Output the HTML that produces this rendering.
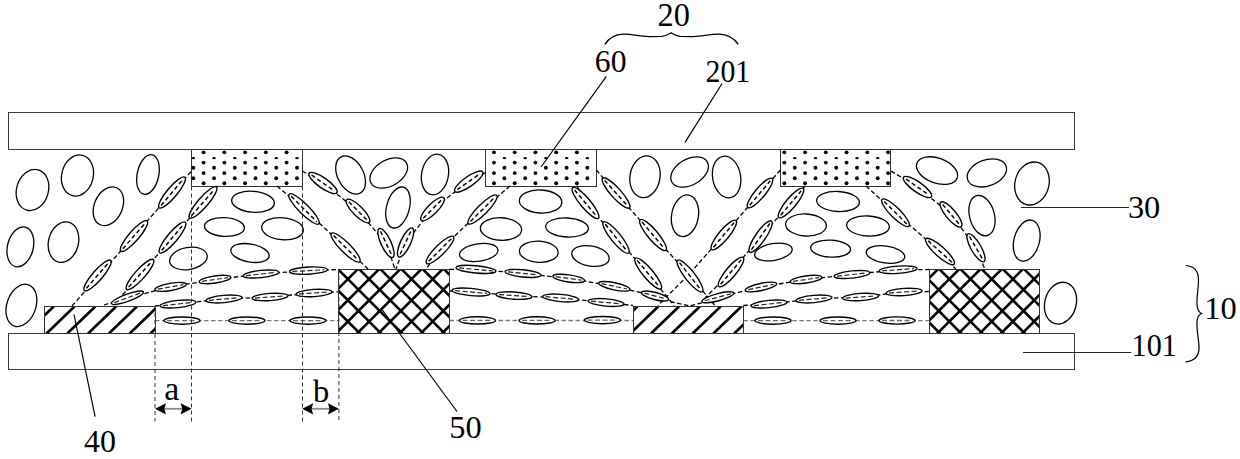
<!DOCTYPE html>
<html><head><meta charset="utf-8"><style>
html,body{margin:0;padding:0;background:#fff;}
svg{display:block;}
.oe{fill:none;stroke:#000;stroke-width:1.3;}
.le{fill:#fff;stroke:#000;stroke-width:1.4;}
.ld{stroke:#000;stroke-width:1.45;stroke-dasharray:4.2 2.8;}
.dt{fill:#000;}
.ld3{stroke:#222;stroke-width:1.2;stroke-dasharray:5 2.5;}
.ld2{stroke:#666;stroke-width:1.3;stroke-dasharray:5 2.5;}
.dl2{fill:none;stroke:#777;stroke-width:1.3;stroke-dasharray:4.5 2.5;}
.dl{fill:none;stroke:#000;stroke-width:1.3;stroke-dasharray:4.5 2.5;}
.vd{stroke:#333;stroke-width:1;stroke-dasharray:4 3;}
.pl{fill:none;stroke:#3a3a3a;stroke-width:1;}
.pl2{fill:none;stroke:#333;stroke-width:1;}
.ht{stroke:#000;stroke-width:2.7;}
.ch{stroke:#000;stroke-width:2.6;}
.ldr{stroke:#000;stroke-width:1.2;}
.ldh{stroke:#222;stroke-width:1;}
.ar{stroke:#888;stroke-width:1.8;}
.br{fill:none;stroke:#000;stroke-width:1.25;}
.tx{font-family:"Liberation Serif",serif;font-size:100px;fill:#000;}
</style></head><body>
<svg width="1240" height="459" viewBox="0 0 1240 459">
<rect width="1240" height="459" fill="#fff"/>
<rect x="8.5" y="112.5" width="1066" height="37" class="pl"/>
<rect x="8.5" y="333.5" width="1066" height="36" class="pl"/>
<rect x="191.5" y="149.5" width="111" height="37" class="pl2"/>
<circle cx="203.60" cy="152.35" r="1.95" class="dt"/>
<circle cx="203.60" cy="162.6" r="1.95" class="dt"/>
<circle cx="203.60" cy="173.1" r="1.95" class="dt"/>
<circle cx="203.60" cy="183.2" r="1.95" class="dt"/>
<circle cx="193.30" cy="167.8" r="1.95" class="dt"/>
<circle cx="193.30" cy="178.3" r="1.95" class="dt"/>
<ellipse cx="193.30" cy="158.2" rx="1.8" ry="1.1" class="dt"/>
<circle cx="224.34" cy="152.35" r="1.95" class="dt"/>
<circle cx="224.34" cy="162.6" r="1.95" class="dt"/>
<circle cx="224.34" cy="173.1" r="1.95" class="dt"/>
<circle cx="224.34" cy="183.2" r="1.95" class="dt"/>
<circle cx="214.04" cy="167.8" r="1.95" class="dt"/>
<circle cx="214.04" cy="178.3" r="1.95" class="dt"/>
<ellipse cx="214.04" cy="158.2" rx="1.8" ry="1.1" class="dt"/>
<circle cx="245.08" cy="152.35" r="1.95" class="dt"/>
<circle cx="245.08" cy="162.6" r="1.95" class="dt"/>
<circle cx="245.08" cy="173.1" r="1.95" class="dt"/>
<circle cx="245.08" cy="183.2" r="1.95" class="dt"/>
<circle cx="234.78" cy="167.8" r="1.95" class="dt"/>
<circle cx="234.78" cy="178.3" r="1.95" class="dt"/>
<ellipse cx="234.78" cy="158.2" rx="1.8" ry="1.1" class="dt"/>
<circle cx="265.82" cy="152.35" r="1.95" class="dt"/>
<circle cx="265.82" cy="162.6" r="1.95" class="dt"/>
<circle cx="265.82" cy="173.1" r="1.95" class="dt"/>
<circle cx="265.82" cy="183.2" r="1.95" class="dt"/>
<circle cx="255.52" cy="167.8" r="1.95" class="dt"/>
<circle cx="255.52" cy="178.3" r="1.95" class="dt"/>
<ellipse cx="255.52" cy="158.2" rx="1.8" ry="1.1" class="dt"/>
<circle cx="286.56" cy="152.35" r="1.95" class="dt"/>
<circle cx="286.56" cy="162.6" r="1.95" class="dt"/>
<circle cx="286.56" cy="173.1" r="1.95" class="dt"/>
<circle cx="286.56" cy="183.2" r="1.95" class="dt"/>
<circle cx="276.26" cy="167.8" r="1.95" class="dt"/>
<circle cx="276.26" cy="178.3" r="1.95" class="dt"/>
<ellipse cx="276.26" cy="158.2" rx="1.8" ry="1.1" class="dt"/>
<circle cx="297.00" cy="167.8" r="1.95" class="dt"/>
<circle cx="297.00" cy="178.3" r="1.95" class="dt"/>
<ellipse cx="297.00" cy="158.2" rx="1.8" ry="1.1" class="dt"/>
<rect x="485.5" y="149.5" width="111" height="37" class="pl2"/>
<circle cx="493.96" cy="152.35" r="1.95" class="dt"/>
<circle cx="493.96" cy="162.6" r="1.95" class="dt"/>
<circle cx="493.96" cy="173.1" r="1.95" class="dt"/>
<circle cx="493.96" cy="183.2" r="1.95" class="dt"/>
<circle cx="514.70" cy="152.35" r="1.95" class="dt"/>
<circle cx="514.70" cy="162.6" r="1.95" class="dt"/>
<circle cx="514.70" cy="173.1" r="1.95" class="dt"/>
<circle cx="514.70" cy="183.2" r="1.95" class="dt"/>
<circle cx="504.40" cy="167.8" r="1.95" class="dt"/>
<circle cx="504.40" cy="178.3" r="1.95" class="dt"/>
<ellipse cx="504.40" cy="158.2" rx="1.8" ry="1.1" class="dt"/>
<circle cx="535.44" cy="152.35" r="1.95" class="dt"/>
<circle cx="535.44" cy="162.6" r="1.95" class="dt"/>
<circle cx="535.44" cy="173.1" r="1.95" class="dt"/>
<circle cx="535.44" cy="183.2" r="1.95" class="dt"/>
<circle cx="525.14" cy="167.8" r="1.95" class="dt"/>
<circle cx="525.14" cy="178.3" r="1.95" class="dt"/>
<ellipse cx="525.14" cy="158.2" rx="1.8" ry="1.1" class="dt"/>
<circle cx="556.18" cy="152.35" r="1.95" class="dt"/>
<circle cx="556.18" cy="162.6" r="1.95" class="dt"/>
<circle cx="556.18" cy="173.1" r="1.95" class="dt"/>
<circle cx="556.18" cy="183.2" r="1.95" class="dt"/>
<circle cx="545.88" cy="167.8" r="1.95" class="dt"/>
<circle cx="545.88" cy="178.3" r="1.95" class="dt"/>
<ellipse cx="545.88" cy="158.2" rx="1.8" ry="1.1" class="dt"/>
<circle cx="576.92" cy="152.35" r="1.95" class="dt"/>
<circle cx="576.92" cy="162.6" r="1.95" class="dt"/>
<circle cx="576.92" cy="173.1" r="1.95" class="dt"/>
<circle cx="576.92" cy="183.2" r="1.95" class="dt"/>
<circle cx="566.62" cy="167.8" r="1.95" class="dt"/>
<circle cx="566.62" cy="178.3" r="1.95" class="dt"/>
<ellipse cx="566.62" cy="158.2" rx="1.8" ry="1.1" class="dt"/>
<circle cx="587.36" cy="167.8" r="1.95" class="dt"/>
<circle cx="587.36" cy="178.3" r="1.95" class="dt"/>
<ellipse cx="587.36" cy="158.2" rx="1.8" ry="1.1" class="dt"/>
<rect x="780.5" y="149.5" width="110" height="37" class="pl2"/>
<circle cx="784.32" cy="152.35" r="1.95" class="dt"/>
<circle cx="784.32" cy="162.6" r="1.95" class="dt"/>
<circle cx="784.32" cy="173.1" r="1.95" class="dt"/>
<circle cx="784.32" cy="183.2" r="1.95" class="dt"/>
<circle cx="805.06" cy="152.35" r="1.95" class="dt"/>
<circle cx="805.06" cy="162.6" r="1.95" class="dt"/>
<circle cx="805.06" cy="173.1" r="1.95" class="dt"/>
<circle cx="805.06" cy="183.2" r="1.95" class="dt"/>
<circle cx="794.76" cy="167.8" r="1.95" class="dt"/>
<circle cx="794.76" cy="178.3" r="1.95" class="dt"/>
<ellipse cx="794.76" cy="158.2" rx="1.8" ry="1.1" class="dt"/>
<circle cx="825.80" cy="152.35" r="1.95" class="dt"/>
<circle cx="825.80" cy="162.6" r="1.95" class="dt"/>
<circle cx="825.80" cy="173.1" r="1.95" class="dt"/>
<circle cx="825.80" cy="183.2" r="1.95" class="dt"/>
<circle cx="815.50" cy="167.8" r="1.95" class="dt"/>
<circle cx="815.50" cy="178.3" r="1.95" class="dt"/>
<ellipse cx="815.50" cy="158.2" rx="1.8" ry="1.1" class="dt"/>
<circle cx="846.54" cy="152.35" r="1.95" class="dt"/>
<circle cx="846.54" cy="162.6" r="1.95" class="dt"/>
<circle cx="846.54" cy="173.1" r="1.95" class="dt"/>
<circle cx="846.54" cy="183.2" r="1.95" class="dt"/>
<circle cx="836.24" cy="167.8" r="1.95" class="dt"/>
<circle cx="836.24" cy="178.3" r="1.95" class="dt"/>
<ellipse cx="836.24" cy="158.2" rx="1.8" ry="1.1" class="dt"/>
<circle cx="867.28" cy="152.35" r="1.95" class="dt"/>
<circle cx="867.28" cy="162.6" r="1.95" class="dt"/>
<circle cx="867.28" cy="173.1" r="1.95" class="dt"/>
<circle cx="867.28" cy="183.2" r="1.95" class="dt"/>
<circle cx="856.98" cy="167.8" r="1.95" class="dt"/>
<circle cx="856.98" cy="178.3" r="1.95" class="dt"/>
<ellipse cx="856.98" cy="158.2" rx="1.8" ry="1.1" class="dt"/>
<circle cx="888.02" cy="152.35" r="1.95" class="dt"/>
<circle cx="888.02" cy="162.6" r="1.95" class="dt"/>
<circle cx="888.02" cy="173.1" r="1.95" class="dt"/>
<circle cx="888.02" cy="183.2" r="1.95" class="dt"/>
<circle cx="877.72" cy="167.8" r="1.95" class="dt"/>
<circle cx="877.72" cy="178.3" r="1.95" class="dt"/>
<ellipse cx="877.72" cy="158.2" rx="1.8" ry="1.1" class="dt"/>
<path d="M72 306 L191.5 171" class="dl"/>
<path d="M113 305 L126 291 L217.5 186" class="dl"/>
<path d="M104 305 L127.4 297.8 L170.6 286.9 L215 279.5 L261 274 L308.5 270.6 L338.9 269.5" class="dl"/>
<path d="M155 306 L178 304 L224 299 L270 297 L314 293 L338.9 291.8" class="dl"/>
<path d="M155 320.7 L338.9 320.7" class="dl2"/>
<path d="M302.2 171 L323 183 L358 211 L386 243 L395 269" class="dl"/>
<path d="M277 186 L304 209 L345.6 247.5 L368 269" class="dl"/>
<path d="M485.7 172.5 L468.75 181.6 L432.5 209 L405.6 242.5 L396 269" class="dl"/>
<path d="M510 186 L482.5 209.5 L440 250 L426 269" class="dl"/>
<path d="M449.5 269.4 L476 269.4 L523 273.4 L568.75 278.4 L614.3 286.3 L655 296 L672 302 L689.8 305.9 L705 302 L717.8 297.3 L761 287 L806 279.5 L852 274.5 L898 269.75 L928.9 269.5" class="dl"/>
<path d="M449.5 291 L471 292 L514 295.6 L560.6 298 L606 302.5 L633 305.5" class="dl"/>
<path d="M449.5 320.5 L633 320.5" class="dl2"/>
<path d="M743.3 305.5 L769 304 L814 299 L860.6 297 L904 292 L928.9 291.5" class="dl"/>
<path d="M743.3 320.6 L928.9 320.6" class="dl2"/>
<path d="M596.3 170 L616 193 L653 235 L690 276 L715 305.5" class="dl"/>
<path d="M577 186 L585.5 203 L616 237.5 L648.2 273.5 L674 305.5" class="dl"/>
<path d="M780.4 170 L760 193 L723.75 235 L688.8 274.5 L658 305.5" class="dl"/>
<path d="M805 186 L791 203 L760.6 236.6 L731 272 L705 298" class="dl"/>
<path d="M891 171 L917.5 187 L951 214.4 L976 247.75 L985 269.4" class="dl"/>
<path d="M866 186 L895.5 212.75 L940 251.5 L956 269.4" class="dl"/>
<g transform="translate(97.5 275.5) rotate(-49)"><ellipse cx="0" cy="0" rx="20" ry="5" class="le"/><line x1="-17" y1="0" x2="17" y2="0" class="ld"/></g>
<g transform="translate(134 236) rotate(-49)"><ellipse cx="0" cy="0" rx="20" ry="5" class="le"/><line x1="-17" y1="0" x2="17" y2="0" class="ld"/></g>
<g transform="translate(172 192.5) rotate(-50)"><ellipse cx="0" cy="0" rx="20" ry="5" class="le"/><line x1="-17" y1="0" x2="17" y2="0" class="ld"/></g>
<g transform="translate(140 274.5) rotate(-48)"><ellipse cx="0" cy="0" rx="20" ry="5" class="le"/><line x1="-17" y1="0" x2="17" y2="0" class="ld"/></g>
<g transform="translate(172.5 237.5) rotate(-50)"><ellipse cx="0" cy="0" rx="20" ry="5" class="le"/><line x1="-17" y1="0" x2="17" y2="0" class="ld"/></g>
<g transform="translate(203 202.5) rotate(-49)"><ellipse cx="0" cy="0" rx="20.5" ry="5" class="le"/><line x1="-17.5" y1="0" x2="17.5" y2="0" class="ld"/></g>
<g transform="translate(127.4 297.8) rotate(-20)"><ellipse cx="0" cy="0" rx="17" ry="3.6" class="le"/><line x1="-14" y1="0" x2="14" y2="0" class="ld3"/></g>
<g transform="translate(323 183) rotate(35)"><ellipse cx="0" cy="0" rx="17" ry="5" class="le"/><line x1="-14" y1="0" x2="14" y2="0" class="ld"/></g>
<g transform="translate(358 211) rotate(45)"><ellipse cx="0" cy="0" rx="16" ry="5" class="le"/><line x1="-13" y1="0" x2="13" y2="0" class="ld"/></g>
<g transform="translate(386 243) rotate(65)"><ellipse cx="0" cy="0" rx="16" ry="5" class="le"/><line x1="-13" y1="0" x2="13" y2="0" class="ld"/></g>
<g transform="translate(304 209) rotate(45)"><ellipse cx="0" cy="0" rx="21" ry="5" class="le"/><line x1="-18" y1="0" x2="18" y2="0" class="ld"/></g>
<g transform="translate(345.6 247.5) rotate(45)"><ellipse cx="0" cy="0" rx="20" ry="5" class="le"/><line x1="-17" y1="0" x2="17" y2="0" class="ld"/></g>
<g transform="translate(468.75 181.6) rotate(-35)"><ellipse cx="0" cy="0" rx="17" ry="5" class="le"/><line x1="-14" y1="0" x2="14" y2="0" class="ld"/></g>
<g transform="translate(432.5 209) rotate(-45)"><ellipse cx="0" cy="0" rx="16" ry="5" class="le"/><line x1="-13" y1="0" x2="13" y2="0" class="ld"/></g>
<g transform="translate(405.6 242.5) rotate(-65)"><ellipse cx="0" cy="0" rx="16" ry="5" class="le"/><line x1="-13" y1="0" x2="13" y2="0" class="ld"/></g>
<g transform="translate(482.5 209.5) rotate(-45)"><ellipse cx="0" cy="0" rx="20" ry="5" class="le"/><line x1="-17" y1="0" x2="17" y2="0" class="ld"/></g>
<g transform="translate(440 250) rotate(-45)"><ellipse cx="0" cy="0" rx="19" ry="5" class="le"/><line x1="-16" y1="0" x2="16" y2="0" class="ld"/></g>
<g transform="translate(585.5 203) rotate(50)"><ellipse cx="0" cy="0" rx="20" ry="5" class="le"/><line x1="-17" y1="0" x2="17" y2="0" class="ld"/></g>
<g transform="translate(616 193) rotate(48)"><ellipse cx="0" cy="0" rx="20" ry="5" class="le"/><line x1="-17" y1="0" x2="17" y2="0" class="ld"/></g>
<g transform="translate(616 237.5) rotate(51)"><ellipse cx="0" cy="0" rx="20" ry="5" class="le"/><line x1="-17" y1="0" x2="17" y2="0" class="ld"/></g>
<g transform="translate(653 235) rotate(50)"><ellipse cx="0" cy="0" rx="20" ry="5" class="le"/><line x1="-17" y1="0" x2="17" y2="0" class="ld"/></g>
<g transform="translate(648.2 273.5) rotate(50)"><ellipse cx="0" cy="0" rx="20" ry="5" class="le"/><line x1="-17" y1="0" x2="17" y2="0" class="ld"/></g>
<g transform="translate(690 276) rotate(52)"><ellipse cx="0" cy="0" rx="20" ry="5" class="le"/><line x1="-17" y1="0" x2="17" y2="0" class="ld"/></g>
<g transform="translate(760 193) rotate(-50)"><ellipse cx="0" cy="0" rx="19" ry="5" class="le"/><line x1="-16" y1="0" x2="16" y2="0" class="ld"/></g>
<g transform="translate(723.75 235) rotate(-50)"><ellipse cx="0" cy="0" rx="19" ry="5" class="le"/><line x1="-16" y1="0" x2="16" y2="0" class="ld"/></g>
<g transform="translate(791 203) rotate(-50)"><ellipse cx="0" cy="0" rx="19" ry="5" class="le"/><line x1="-16" y1="0" x2="16" y2="0" class="ld"/></g>
<g transform="translate(760.6 236.6) rotate(-55)"><ellipse cx="0" cy="0" rx="19" ry="5" class="le"/><line x1="-16" y1="0" x2="16" y2="0" class="ld"/></g>
<g transform="translate(731 272) rotate(-50)"><ellipse cx="0" cy="0" rx="19" ry="5" class="le"/><line x1="-16" y1="0" x2="16" y2="0" class="ld"/></g>
<g transform="translate(614.3 286.3) rotate(12)"><ellipse cx="0" cy="0" rx="16" ry="3.6" class="le"/><line x1="-13" y1="0" x2="13" y2="0" class="ld3"/></g>
<g transform="translate(655 296) rotate(15)"><ellipse cx="0" cy="0" rx="14" ry="3.6" class="le"/><line x1="-11" y1="0" x2="11" y2="0" class="ld3"/></g>
<g transform="translate(717.8 297.3) rotate(-15)"><ellipse cx="0" cy="0" rx="16.5" ry="3.6" class="le"/><line x1="-13.5" y1="0" x2="13.5" y2="0" class="ld3"/></g>
<g transform="translate(917.5 187) rotate(35)"><ellipse cx="0" cy="0" rx="17" ry="5" class="le"/><line x1="-14" y1="0" x2="14" y2="0" class="ld"/></g>
<g transform="translate(951 214.4) rotate(50)"><ellipse cx="0" cy="0" rx="16" ry="5" class="le"/><line x1="-13" y1="0" x2="13" y2="0" class="ld"/></g>
<g transform="translate(976 247.75) rotate(60)"><ellipse cx="0" cy="0" rx="16" ry="5" class="le"/><line x1="-13" y1="0" x2="13" y2="0" class="ld"/></g>
<g transform="translate(895.5 212.75) rotate(45)"><ellipse cx="0" cy="0" rx="19" ry="5" class="le"/><line x1="-16" y1="0" x2="16" y2="0" class="ld"/></g>
<g transform="translate(940 251.5) rotate(42)"><ellipse cx="0" cy="0" rx="19" ry="5" class="le"/><line x1="-16" y1="0" x2="16" y2="0" class="ld"/></g>
<g transform="translate(170.6 286.9) rotate(-10)"><ellipse cx="0" cy="0" rx="16" ry="3.6" class="le"/><line x1="-13" y1="0" x2="13" y2="0" class="ld3"/></g>
<g transform="translate(215 279.5) rotate(-8)"><ellipse cx="0" cy="0" rx="16" ry="3.6" class="le"/><line x1="-13" y1="0" x2="13" y2="0" class="ld3"/></g>
<g transform="translate(261 274) rotate(-6)"><ellipse cx="0" cy="0" rx="18" ry="3.6" class="le"/><line x1="-15" y1="0" x2="15" y2="0" class="ld3"/></g>
<g transform="translate(308.5 270.6) rotate(-3)"><ellipse cx="0" cy="0" rx="19" ry="3.6" class="le"/><line x1="-16" y1="0" x2="16" y2="0" class="ld3"/></g>
<g transform="translate(178 304) rotate(-6)"><ellipse cx="0" cy="0" rx="18" ry="3.6" class="le"/><line x1="-15" y1="0" x2="15" y2="0" class="ld3"/></g>
<g transform="translate(224 299) rotate(-5)"><ellipse cx="0" cy="0" rx="18" ry="3.6" class="le"/><line x1="-15" y1="0" x2="15" y2="0" class="ld3"/></g>
<g transform="translate(270 297) rotate(-4)"><ellipse cx="0" cy="0" rx="18" ry="3.6" class="le"/><line x1="-15" y1="0" x2="15" y2="0" class="ld3"/></g>
<g transform="translate(314 293) rotate(-4)"><ellipse cx="0" cy="0" rx="18" ry="3.6" class="le"/><line x1="-15" y1="0" x2="15" y2="0" class="ld3"/></g>
<g transform="translate(182 320.6) rotate(0)"><ellipse cx="0" cy="0" rx="18" ry="3.6" class="le"/><line x1="-15" y1="0" x2="15" y2="0" class="ld2"/></g>
<g transform="translate(247 320.6) rotate(0)"><ellipse cx="0" cy="0" rx="18" ry="3.6" class="le"/><line x1="-15" y1="0" x2="15" y2="0" class="ld2"/></g>
<g transform="translate(308 320.6) rotate(0)"><ellipse cx="0" cy="0" rx="18" ry="3.6" class="le"/><line x1="-15" y1="0" x2="15" y2="0" class="ld2"/></g>
<g transform="translate(476 269.4) rotate(5)"><ellipse cx="0" cy="0" rx="20" ry="3.6" class="le"/><line x1="-17" y1="0" x2="17" y2="0" class="ld3"/></g>
<g transform="translate(523 273.4) rotate(6)"><ellipse cx="0" cy="0" rx="18" ry="3.6" class="le"/><line x1="-15" y1="0" x2="15" y2="0" class="ld3"/></g>
<g transform="translate(568.75 278.4) rotate(8)"><ellipse cx="0" cy="0" rx="16" ry="3.6" class="le"/><line x1="-13" y1="0" x2="13" y2="0" class="ld3"/></g>
<g transform="translate(471 292) rotate(5)"><ellipse cx="0" cy="0" rx="19" ry="3.6" class="le"/><line x1="-16" y1="0" x2="16" y2="0" class="ld3"/></g>
<g transform="translate(514 295.6) rotate(4)"><ellipse cx="0" cy="0" rx="18" ry="3.6" class="le"/><line x1="-15" y1="0" x2="15" y2="0" class="ld3"/></g>
<g transform="translate(560.6 298) rotate(5)"><ellipse cx="0" cy="0" rx="18" ry="3.6" class="le"/><line x1="-15" y1="0" x2="15" y2="0" class="ld3"/></g>
<g transform="translate(606 302.5) rotate(5)"><ellipse cx="0" cy="0" rx="18" ry="3.6" class="le"/><line x1="-15" y1="0" x2="15" y2="0" class="ld3"/></g>
<g transform="translate(477.5 320.4) rotate(0)"><ellipse cx="0" cy="0" rx="18" ry="3.6" class="le"/><line x1="-15" y1="0" x2="15" y2="0" class="ld2"/></g>
<g transform="translate(537 320.4) rotate(0)"><ellipse cx="0" cy="0" rx="18" ry="3.6" class="le"/><line x1="-15" y1="0" x2="15" y2="0" class="ld2"/></g>
<g transform="translate(602.5 320.1) rotate(0)"><ellipse cx="0" cy="0" rx="18" ry="3.6" class="le"/><line x1="-15" y1="0" x2="15" y2="0" class="ld2"/></g>
<g transform="translate(761 287) rotate(-12)"><ellipse cx="0" cy="0" rx="16" ry="3.6" class="le"/><line x1="-13" y1="0" x2="13" y2="0" class="ld3"/></g>
<g transform="translate(806 279.5) rotate(-8)"><ellipse cx="0" cy="0" rx="16" ry="3.6" class="le"/><line x1="-13" y1="0" x2="13" y2="0" class="ld3"/></g>
<g transform="translate(852 274.5) rotate(-6)"><ellipse cx="0" cy="0" rx="18" ry="3.6" class="le"/><line x1="-15" y1="0" x2="15" y2="0" class="ld3"/></g>
<g transform="translate(898 269.75) rotate(-4)"><ellipse cx="0" cy="0" rx="19" ry="3.6" class="le"/><line x1="-16" y1="0" x2="16" y2="0" class="ld3"/></g>
<g transform="translate(769 304) rotate(-6)"><ellipse cx="0" cy="0" rx="18" ry="3.6" class="le"/><line x1="-15" y1="0" x2="15" y2="0" class="ld3"/></g>
<g transform="translate(814 299) rotate(-5)"><ellipse cx="0" cy="0" rx="18" ry="3.6" class="le"/><line x1="-15" y1="0" x2="15" y2="0" class="ld3"/></g>
<g transform="translate(860.6 297) rotate(-4)"><ellipse cx="0" cy="0" rx="18" ry="3.6" class="le"/><line x1="-15" y1="0" x2="15" y2="0" class="ld3"/></g>
<g transform="translate(904 292) rotate(-4)"><ellipse cx="0" cy="0" rx="18" ry="3.6" class="le"/><line x1="-15" y1="0" x2="15" y2="0" class="ld3"/></g>
<g transform="translate(773 320.6) rotate(0)"><ellipse cx="0" cy="0" rx="18" ry="3.6" class="le"/><line x1="-15" y1="0" x2="15" y2="0" class="ld2"/></g>
<g transform="translate(838 320.6) rotate(0)"><ellipse cx="0" cy="0" rx="18" ry="3.6" class="le"/><line x1="-15" y1="0" x2="15" y2="0" class="ld2"/></g>
<g transform="translate(897 320.5) rotate(0)"><ellipse cx="0" cy="0" rx="18" ry="3.6" class="le"/><line x1="-15" y1="0" x2="15" y2="0" class="ld2"/></g>
<line x1="155" y1="306" x2="155" y2="421.5" class="vd"/>
<line x1="191.5" y1="186.5" x2="191.5" y2="421.5" class="vd"/>
<line x1="302.5" y1="186.5" x2="302.5" y2="421.5" class="vd"/>
<line x1="338.9" y1="269" x2="338.9" y2="421.5" class="vd"/>
<ellipse cx="253" cy="201.75" rx="21.4" ry="10.5" transform="rotate(5 253 201.75)" class="oe"/>
<ellipse cx="224.5" cy="227" rx="20.0" ry="9.4" transform="rotate(3 224.5 227)" class="oe"/>
<ellipse cx="282.5" cy="228.75" rx="20.9" ry="11" transform="rotate(5 282.5 228.75)" class="oe"/>
<ellipse cx="188.4" cy="258.5" rx="19.0" ry="11" transform="rotate(-10 188.4 258.5)" class="oe"/>
<ellipse cx="250" cy="253" rx="19.4" ry="9" transform="rotate(10 250 253)" class="oe"/>
<ellipse cx="350.6" cy="175" rx="12.9" ry="20.5" transform="rotate(-28 350.6 175)" class="oe"/>
<ellipse cx="388.75" cy="173" rx="20.4" ry="13" transform="rotate(-30 388.75 173)" class="oe"/>
<ellipse cx="398" cy="207.5" rx="11.4" ry="21" transform="rotate(15 398 207.5)" class="oe"/>
<ellipse cx="435" cy="174.5" rx="13.4" ry="20.5" transform="rotate(10 435 174.5)" class="oe"/>
<ellipse cx="540.6" cy="201.5" rx="21.299999999999997" ry="11.5" transform="rotate(3 540.6 201.5)" class="oe"/>
<ellipse cx="501" cy="229" rx="20.65" ry="11.25" transform="rotate(3 501 229)" class="oe"/>
<ellipse cx="567" cy="227.5" rx="21.4" ry="9.5" transform="rotate(3 567 227.5)" class="oe"/>
<ellipse cx="478.75" cy="252.5" rx="19.4" ry="8.75" transform="rotate(-8 478.75 252.5)" class="oe"/>
<ellipse cx="538.75" cy="251.75" rx="19.4" ry="10.6" transform="rotate(3 538.75 251.75)" class="oe"/>
<ellipse cx="590.5" cy="256" rx="18.9" ry="10" transform="rotate(10 590.5 256)" class="oe"/>
<ellipse cx="645" cy="176.75" rx="15.0" ry="21" transform="rotate(10 645 176.75)" class="oe"/>
<ellipse cx="689.6" cy="172" rx="20.4" ry="13" transform="rotate(-30 689.6 172)" class="oe"/>
<ellipse cx="726.6" cy="177" rx="14.0" ry="21" transform="rotate(-10 726.6 177)" class="oe"/>
<ellipse cx="685" cy="215.75" rx="13.4" ry="21" transform="rotate(10 685 215.75)" class="oe"/>
<ellipse cx="838" cy="201.5" rx="21.4" ry="10" transform="rotate(3 838 201.5)" class="oe"/>
<ellipse cx="806" cy="225" rx="20.4" ry="11" transform="rotate(3 806 225)" class="oe"/>
<ellipse cx="868" cy="226" rx="21.4" ry="10" transform="rotate(3 868 226)" class="oe"/>
<ellipse cx="773.4" cy="252" rx="19.0" ry="8.4" transform="rotate(-10 773.4 252)" class="oe"/>
<ellipse cx="830.6" cy="248.6" rx="20.0" ry="8.5" transform="rotate(3 830.6 248.6)" class="oe"/>
<ellipse cx="885.5" cy="254.5" rx="19.4" ry="8.5" transform="rotate(8 885.5 254.5)" class="oe"/>
<ellipse cx="937" cy="170.6" rx="21.4" ry="12.5" transform="rotate(20 937 170.6)" class="oe"/>
<ellipse cx="986.9" cy="172.9" rx="20.4" ry="13" transform="rotate(-20 986.9 172.9)" class="oe"/>
<ellipse cx="1032" cy="183.5" rx="17.0" ry="21.75" transform="rotate(15 1032 183.5)" class="oe"/>
<ellipse cx="982" cy="215.6" rx="12.4" ry="20.6" transform="rotate(-15 982 215.6)" class="oe"/>
<ellipse cx="1026.7" cy="240.6" rx="12.700000000000001" ry="21" transform="rotate(15 1026.7 240.6)" class="oe"/>
<ellipse cx="1060.5" cy="303.2" rx="15.700000000000001" ry="21.25" transform="rotate(15 1060.5 303.2)" class="oe"/>
<ellipse cx="32.5" cy="190" rx="15.91" ry="20.94" transform="rotate(16 32.5 190)" class="oe"/>
<ellipse cx="77.5" cy="175.5" rx="15.76" ry="20.86" transform="rotate(14 77.5 175.5)" class="oe"/>
<ellipse cx="108.4" cy="206.25" rx="14.05" ry="20.24" transform="rotate(24 108.4 206.25)" class="oe"/>
<ellipse cx="148" cy="174.5" rx="10.78" ry="20.16" transform="rotate(12 148 174.5)" class="oe"/>
<ellipse cx="20.4" cy="246.9" rx="12.90" ry="20.31" transform="rotate(14 20.4 246.9)" class="oe"/>
<ellipse cx="63.5" cy="242.1" rx="14.97" ry="20.53" transform="rotate(14 63.5 242.1)" class="oe"/>
<ellipse cx="21.4" cy="305.4" rx="14.51" ry="21.80" transform="rotate(19 21.4 305.4)" class="oe"/>
<clipPath id="h1"><rect x="44.5" y="306.5" width="111.0" height="27.0"/></clipPath>
<g clip-path="url(#h1)">
<line x1="-15.900000000000006" y1="333.5" x2="12.099999999999994" y2="306.5" class="ht"/>
<line x1="4.899999999999999" y1="333.5" x2="32.9" y2="306.5" class="ht"/>
<line x1="25.7" y1="333.5" x2="53.7" y2="306.5" class="ht"/>
<line x1="46.5" y1="333.5" x2="74.5" y2="306.5" class="ht"/>
<line x1="67.3" y1="333.5" x2="95.3" y2="306.5" class="ht"/>
<line x1="88.1" y1="333.5" x2="116.1" y2="306.5" class="ht"/>
<line x1="108.9" y1="333.5" x2="136.9" y2="306.5" class="ht"/>
<line x1="129.7" y1="333.5" x2="157.7" y2="306.5" class="ht"/>
<line x1="150.5" y1="333.5" x2="178.5" y2="306.5" class="ht"/>
<line x1="171.3" y1="333.5" x2="199.3" y2="306.5" class="ht"/>
<line x1="192.1" y1="333.5" x2="220.1" y2="306.5" class="ht"/>
<line x1="212.9" y1="333.5" x2="240.9" y2="306.5" class="ht"/>
<line x1="233.70000000000002" y1="333.5" x2="261.70000000000005" y2="306.5" class="ht"/>
</g>
<rect x="44.5" y="306.5" width="111.0" height="27.0" class="pl2"/>
<clipPath id="h2"><rect x="633.5" y="306.5" width="110.0" height="27.0"/></clipPath>
<g clip-path="url(#h2)">
<line x1="588.6" y1="333.5" x2="616.6" y2="306.5" class="ht"/>
<line x1="609.4" y1="333.5" x2="637.4" y2="306.5" class="ht"/>
<line x1="630.2" y1="333.5" x2="658.2" y2="306.5" class="ht"/>
<line x1="651.0" y1="333.5" x2="679.0" y2="306.5" class="ht"/>
<line x1="671.8" y1="333.5" x2="699.8" y2="306.5" class="ht"/>
<line x1="692.6" y1="333.5" x2="720.6" y2="306.5" class="ht"/>
<line x1="713.4" y1="333.5" x2="741.4" y2="306.5" class="ht"/>
<line x1="734.2" y1="333.5" x2="762.2" y2="306.5" class="ht"/>
<line x1="755.0" y1="333.5" x2="783.0" y2="306.5" class="ht"/>
<line x1="775.8" y1="333.5" x2="803.8" y2="306.5" class="ht"/>
<line x1="796.6" y1="333.5" x2="824.6" y2="306.5" class="ht"/>
<line x1="817.4" y1="333.5" x2="845.4" y2="306.5" class="ht"/>
<line x1="838.2" y1="333.5" x2="866.2" y2="306.5" class="ht"/>
</g>
<rect x="633.5" y="306.5" width="110.0" height="27.0" class="pl2"/>
<clipPath id="c1"><rect x="338.5" y="269.5" width="111.0" height="64.0"/></clipPath>
<g clip-path="url(#c1)">
<line x1="43.89999999999998" y1="229.5" x2="187.89999999999998" y2="373.5" class="ch"/>
<line x1="143.10000000000002" y1="229.5" x2="-0.8999999999999773" y2="373.5" class="ch"/>
<line x1="65.09999999999997" y1="229.5" x2="209.09999999999997" y2="373.5" class="ch"/>
<line x1="164.3" y1="229.5" x2="20.30000000000001" y2="373.5" class="ch"/>
<line x1="86.29999999999995" y1="229.5" x2="230.29999999999995" y2="373.5" class="ch"/>
<line x1="185.5" y1="229.5" x2="41.5" y2="373.5" class="ch"/>
<line x1="107.49999999999997" y1="229.5" x2="251.49999999999997" y2="373.5" class="ch"/>
<line x1="206.70000000000005" y1="229.5" x2="62.700000000000045" y2="373.5" class="ch"/>
<line x1="128.69999999999996" y1="229.5" x2="272.69999999999993" y2="373.5" class="ch"/>
<line x1="227.89999999999998" y1="229.5" x2="83.89999999999998" y2="373.5" class="ch"/>
<line x1="149.89999999999995" y1="229.5" x2="293.9" y2="373.5" class="ch"/>
<line x1="249.10000000000002" y1="229.5" x2="105.10000000000002" y2="373.5" class="ch"/>
<line x1="171.09999999999997" y1="229.5" x2="315.09999999999997" y2="373.5" class="ch"/>
<line x1="270.3" y1="229.5" x2="126.30000000000001" y2="373.5" class="ch"/>
<line x1="192.29999999999995" y1="229.5" x2="336.29999999999995" y2="373.5" class="ch"/>
<line x1="291.5" y1="229.5" x2="147.5" y2="373.5" class="ch"/>
<line x1="213.49999999999994" y1="229.5" x2="357.49999999999994" y2="373.5" class="ch"/>
<line x1="312.70000000000005" y1="229.5" x2="168.70000000000005" y2="373.5" class="ch"/>
<line x1="234.69999999999993" y1="229.5" x2="378.69999999999993" y2="373.5" class="ch"/>
<line x1="333.9" y1="229.5" x2="189.89999999999998" y2="373.5" class="ch"/>
<line x1="255.89999999999998" y1="229.5" x2="399.9" y2="373.5" class="ch"/>
<line x1="355.1" y1="229.5" x2="211.10000000000002" y2="373.5" class="ch"/>
<line x1="277.09999999999997" y1="229.5" x2="421.09999999999997" y2="373.5" class="ch"/>
<line x1="376.29999999999995" y1="229.5" x2="232.29999999999995" y2="373.5" class="ch"/>
<line x1="298.29999999999995" y1="229.5" x2="442.29999999999995" y2="373.5" class="ch"/>
<line x1="397.5" y1="229.5" x2="253.5" y2="373.5" class="ch"/>
<line x1="319.49999999999994" y1="229.5" x2="463.49999999999994" y2="373.5" class="ch"/>
<line x1="418.70000000000005" y1="229.5" x2="274.70000000000005" y2="373.5" class="ch"/>
<line x1="340.69999999999993" y1="229.5" x2="484.69999999999993" y2="373.5" class="ch"/>
<line x1="439.9" y1="229.5" x2="295.9" y2="373.5" class="ch"/>
<line x1="361.9" y1="229.5" x2="505.9" y2="373.5" class="ch"/>
<line x1="461.1" y1="229.5" x2="317.1" y2="373.5" class="ch"/>
<line x1="383.09999999999997" y1="229.5" x2="527.0999999999999" y2="373.5" class="ch"/>
<line x1="482.29999999999995" y1="229.5" x2="338.29999999999995" y2="373.5" class="ch"/>
<line x1="404.29999999999995" y1="229.5" x2="548.3" y2="373.5" class="ch"/>
<line x1="503.5" y1="229.5" x2="359.5" y2="373.5" class="ch"/>
<line x1="425.49999999999994" y1="229.5" x2="569.5" y2="373.5" class="ch"/>
<line x1="524.7" y1="229.5" x2="380.70000000000005" y2="373.5" class="ch"/>
<line x1="446.69999999999993" y1="229.5" x2="590.6999999999999" y2="373.5" class="ch"/>
<line x1="545.9" y1="229.5" x2="401.9" y2="373.5" class="ch"/>
<line x1="467.9" y1="229.5" x2="611.9" y2="373.5" class="ch"/>
<line x1="567.1" y1="229.5" x2="423.1" y2="373.5" class="ch"/>
<line x1="489.0999999999999" y1="229.5" x2="633.0999999999999" y2="373.5" class="ch"/>
<line x1="588.3" y1="229.5" x2="444.29999999999995" y2="373.5" class="ch"/>
<line x1="510.29999999999995" y1="229.5" x2="654.3" y2="373.5" class="ch"/>
<line x1="609.5" y1="229.5" x2="465.5" y2="373.5" class="ch"/>
<line x1="531.5" y1="229.5" x2="675.5" y2="373.5" class="ch"/>
<line x1="630.7" y1="229.5" x2="486.70000000000005" y2="373.5" class="ch"/>
</g>
<rect x="338.5" y="269.5" width="111.0" height="64.0" class="pl2"/>
<clipPath id="c2"><rect x="929.5" y="269.5" width="110.0" height="64.0"/></clipPath>
<g clip-path="url(#c2)">
<line x1="645.3" y1="229.5" x2="789.3" y2="373.5" class="ch"/>
<line x1="744.5000000000001" y1="229.5" x2="600.5000000000001" y2="373.5" class="ch"/>
<line x1="666.5" y1="229.5" x2="810.5" y2="373.5" class="ch"/>
<line x1="765.7" y1="229.5" x2="621.7" y2="373.5" class="ch"/>
<line x1="687.6999999999999" y1="229.5" x2="831.6999999999999" y2="373.5" class="ch"/>
<line x1="786.9000000000001" y1="229.5" x2="642.9000000000001" y2="373.5" class="ch"/>
<line x1="708.9" y1="229.5" x2="852.9" y2="373.5" class="ch"/>
<line x1="808.1000000000001" y1="229.5" x2="664.1000000000001" y2="373.5" class="ch"/>
<line x1="730.0999999999999" y1="229.5" x2="874.0999999999999" y2="373.5" class="ch"/>
<line x1="829.3000000000002" y1="229.5" x2="685.3000000000002" y2="373.5" class="ch"/>
<line x1="751.3" y1="229.5" x2="895.3" y2="373.5" class="ch"/>
<line x1="850.5" y1="229.5" x2="706.5" y2="373.5" class="ch"/>
<line x1="772.5" y1="229.5" x2="916.5" y2="373.5" class="ch"/>
<line x1="871.7" y1="229.5" x2="727.7" y2="373.5" class="ch"/>
<line x1="793.6999999999999" y1="229.5" x2="937.6999999999999" y2="373.5" class="ch"/>
<line x1="892.9000000000001" y1="229.5" x2="748.9000000000001" y2="373.5" class="ch"/>
<line x1="814.9" y1="229.5" x2="958.9" y2="373.5" class="ch"/>
<line x1="914.1000000000001" y1="229.5" x2="770.1000000000001" y2="373.5" class="ch"/>
<line x1="836.0999999999999" y1="229.5" x2="980.0999999999999" y2="373.5" class="ch"/>
<line x1="935.3000000000002" y1="229.5" x2="791.3000000000002" y2="373.5" class="ch"/>
<line x1="857.3" y1="229.5" x2="1001.3" y2="373.5" class="ch"/>
<line x1="956.5" y1="229.5" x2="812.5" y2="373.5" class="ch"/>
<line x1="878.4999999999999" y1="229.5" x2="1022.4999999999999" y2="373.5" class="ch"/>
<line x1="977.7" y1="229.5" x2="833.7" y2="373.5" class="ch"/>
<line x1="899.6999999999999" y1="229.5" x2="1043.6999999999998" y2="373.5" class="ch"/>
<line x1="998.9000000000001" y1="229.5" x2="854.9000000000001" y2="373.5" class="ch"/>
<line x1="920.9" y1="229.5" x2="1064.9" y2="373.5" class="ch"/>
<line x1="1020.1000000000001" y1="229.5" x2="876.1000000000001" y2="373.5" class="ch"/>
<line x1="942.0999999999999" y1="229.5" x2="1086.1" y2="373.5" class="ch"/>
<line x1="1041.3000000000002" y1="229.5" x2="897.3000000000002" y2="373.5" class="ch"/>
<line x1="963.3" y1="229.5" x2="1107.3" y2="373.5" class="ch"/>
<line x1="1062.5" y1="229.5" x2="918.5" y2="373.5" class="ch"/>
<line x1="984.5" y1="229.5" x2="1128.5" y2="373.5" class="ch"/>
<line x1="1083.7" y1="229.5" x2="939.7" y2="373.5" class="ch"/>
<line x1="1005.6999999999998" y1="229.5" x2="1149.6999999999998" y2="373.5" class="ch"/>
<line x1="1104.9" y1="229.5" x2="960.9000000000001" y2="373.5" class="ch"/>
<line x1="1026.8999999999999" y1="229.5" x2="1170.8999999999999" y2="373.5" class="ch"/>
<line x1="1126.1000000000001" y1="229.5" x2="982.1000000000001" y2="373.5" class="ch"/>
<line x1="1048.1" y1="229.5" x2="1192.1" y2="373.5" class="ch"/>
<line x1="1147.3000000000002" y1="229.5" x2="1003.3000000000002" y2="373.5" class="ch"/>
<line x1="1069.3" y1="229.5" x2="1213.3" y2="373.5" class="ch"/>
<line x1="1168.5" y1="229.5" x2="1024.5" y2="373.5" class="ch"/>
<line x1="1090.5" y1="229.5" x2="1234.5" y2="373.5" class="ch"/>
<line x1="1189.7" y1="229.5" x2="1045.7" y2="373.5" class="ch"/>
<line x1="1111.6999999999998" y1="229.5" x2="1255.6999999999998" y2="373.5" class="ch"/>
<line x1="1210.9" y1="229.5" x2="1066.9" y2="373.5" class="ch"/>
<line x1="1132.8999999999999" y1="229.5" x2="1276.8999999999999" y2="373.5" class="ch"/>
<line x1="1232.1000000000001" y1="229.5" x2="1088.1000000000001" y2="373.5" class="ch"/>
</g>
<rect x="929.5" y="269.5" width="110.0" height="64.0" class="pl2"/>
<line x1="606.4" y1="76.4" x2="541" y2="167" class="ldr"/>
<line x1="722.1" y1="83.5" x2="685" y2="142.4" class="ldr"/>
<line x1="74" y1="314.5" x2="95.1" y2="416.6" class="ldr"/>
<line x1="381.6" y1="309" x2="457" y2="411.5" class="ldr"/>
<line x1="1021" y1="207.5" x2="1129" y2="207.5" class="ldh"/>
<line x1="1023" y1="352.5" x2="1131.3" y2="352.5" class="ldh"/>
<line x1="163" y1="408.8" x2="183.6" y2="408.8" class="ar"/>
<path d="M155 408.8 L166 403.2 L164.3 408.8 L166 414.40000000000003 Z" fill="#000"/>
<path d="M191.6 408.8 L180.6 403.2 L182.29999999999998 408.8 L180.6 414.40000000000003 Z" fill="#000"/>
<line x1="310.2" y1="408.8" x2="330.9" y2="408.8" class="ar"/>
<path d="M302.2 408.8 L313.2 403.2 L311.5 408.8 L313.2 414.40000000000003 Z" fill="#000"/>
<path d="M338.9 408.8 L327.9 403.2 L329.59999999999997 408.8 L327.9 414.40000000000003 Z" fill="#000"/>
<path d="M604.9 44.4 C609 38 614 34.5 623 34.2 C632 34 640 36.4 648 36.5 L662 36.3 C666 36 669 34 671.1 32.8 C673 34 676 36 680 36.3 L694 36.5 C702 36.4 710 34 719 34.2 C728 34.5 734 38 738.2 44.4" class="br"/>
<path d="M1185.5 265.5 C1194 266 1198.5 270 1198.5 280 C1198.5 290 1196.5 296 1197 305 C1197.5 310 1199 312.5 1201.6 313.5 C1199 314.5 1197.2 317 1197 322 C1196.5 331 1199 340 1199 348 C1199 357 1194 361 1185.5 361.8" class="br"/>
<text transform="translate(657.60 26.19) scale(0.3239 0.3300)" x="0" y="0" class="tx">20</text>
<text transform="translate(594.83 71.55) scale(0.3163 0.3248)" x="0" y="0" class="tx">60</text>
<text transform="translate(705.51 81.96) scale(0.2979 0.3184)" x="0" y="0" class="tx">201</text>
<text transform="translate(1127.88 218.17) scale(0.3242 0.3164)" x="0" y="0" class="tx">30</text>
<text transform="translate(1204.27 319.16) scale(0.3253 0.3176)" x="0" y="0" class="tx">10</text>
<text transform="translate(1131.58 356.46) scale(0.3022 0.3176)" x="0" y="0" class="tx">101</text>
<text transform="translate(164.35 399.71) scale(0.3385 0.3365)" x="0" y="0" class="tx">a</text>
<text transform="translate(313.10 402.29) scale(0.3250 0.3136)" x="0" y="0" class="tx">b</text>
<text transform="translate(83.96 452.05) scale(0.3191 0.3231)" x="0" y="0" class="tx">40</text>
<text transform="translate(449.35 438.32) scale(0.3244 0.3249)" x="0" y="0" class="tx">50</text>
</svg></body></html>
